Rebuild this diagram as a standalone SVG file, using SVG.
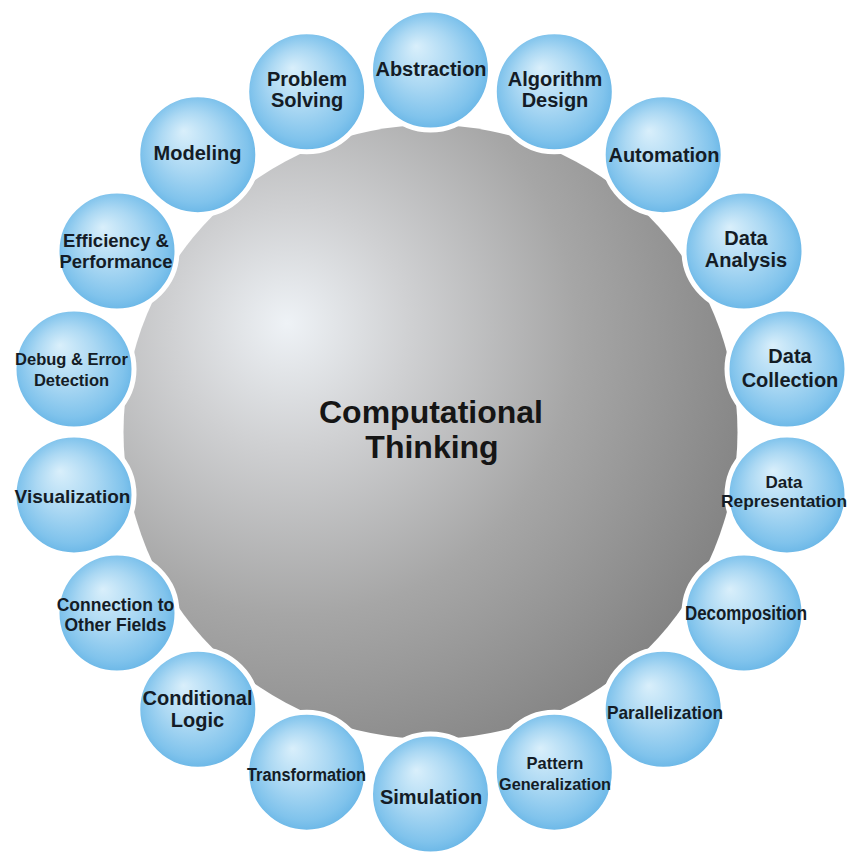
<svg xmlns="http://www.w3.org/2000/svg" width="847" height="852" viewBox="0 0 847 852">
<defs>
<radialGradient id="blue" cx="0.5" cy="0.5" r="0.55" fx="0.38" fy="0.3">
<stop offset="0" stop-color="#d9effb"/>
<stop offset="0.45" stop-color="#abd8f3"/>
<stop offset="0.8" stop-color="#80c3ec"/>
<stop offset="1" stop-color="#5eb0e4"/>
</radialGradient>
<radialGradient id="gray" gradientUnits="userSpaceOnUse" cx="300" cy="340" r="470" fx="287" fy="323">
<stop offset="0" stop-color="#eef2f6"/>
<stop offset="0.25" stop-color="#d0d1d3"/>
<stop offset="0.6" stop-color="#a6a6a6"/>
<stop offset="1" stop-color="#838383"/>
</radialGradient>
<style>
.bub{fill:url(#blue);stroke:#ffffff;stroke-width:5}
.lbl{font-family:"Liberation Sans",Arial,sans-serif;font-weight:bold;fill:#141c26;text-anchor:middle;font-size:20px}
.core{font-family:"Liberation Sans",Arial,sans-serif;font-weight:bold;fill:#151515;text-anchor:middle;font-size:32px}
</style>
</defs>
<rect width="847" height="852" fill="#ffffff"/>
<g id="center">
<circle cx="430.5" cy="432" r="307" fill="url(#gray)"/>
<text class="core" x="431" y="423">Computational</text>
<text class="core" x="432" y="458">Thinking</text>
</g>
<g id="connectors"/>
<g id="abstraction"><circle class="bub" cx="430.5" cy="70" r="60"/><text class="lbl" x="431" y="76">Abstraction</text></g>
<g id="algorithm-design"><circle class="bub" cx="554.3" cy="91.8" r="60"/><text class="lbl" x="555" y="86">Algorithm</text><text class="lbl" x="555" y="107">Design</text></g>
<g id="automation"><circle class="bub" cx="663.2" cy="154.7" r="60"/><text class="lbl" x="664" y="162">Automation</text></g>
<g id="data-analysis"><circle class="bub" cx="744" cy="251" r="60"/><text class="lbl" x="746" y="245">Data</text><text class="lbl" x="746" y="267">Analysis</text></g>
<g id="data-collection"><circle class="bub" cx="787" cy="369.1" r="60"/><text class="lbl" x="790" y="363">Data</text><text class="lbl" x="790" y="387">Collection</text></g>
<g id="data-representation"><circle class="bub" cx="787" cy="494.9" r="60"/><text class="lbl" x="784" y="488" style="font-size:17px">Data</text><text class="lbl" x="784" y="507" style="font-size:17px" textLength="126" lengthAdjust="spacingAndGlyphs">Representation</text></g>
<g id="decomposition"><circle class="bub" cx="744" cy="613" r="60"/><text class="lbl" x="746" y="620" textLength="122" lengthAdjust="spacingAndGlyphs">Decomposition</text></g>
<g id="parallelization"><circle class="bub" cx="663.2" cy="709.3" r="60"/><text class="lbl" x="665" y="719" style="font-size:19px" textLength="116" lengthAdjust="spacingAndGlyphs">Parallelization</text></g>
<g id="pattern-generalization"><circle class="bub" cx="554.3" cy="772.2" r="60"/><text class="lbl" x="555" y="769" style="font-size:16.5px">Pattern</text><text class="lbl" x="555" y="790" style="font-size:16.5px" textLength="112" lengthAdjust="spacingAndGlyphs">Generalization</text></g>
<g id="simulation"><circle class="bub" cx="430.5" cy="794" r="60"/><text class="lbl" x="431" y="804">Simulation</text></g>
<g id="transformation"><circle class="bub" cx="306.7" cy="772.2" r="60"/><text class="lbl" x="306.5" y="781" style="font-size:18px" textLength="119" lengthAdjust="spacingAndGlyphs">Transformation</text></g>
<g id="conditional-logic"><circle class="bub" cx="197.8" cy="709.3" r="60"/><text class="lbl" x="197.5" y="705">Conditional</text><text class="lbl" x="197.5" y="727">Logic</text></g>
<g id="connection-to-other-fields"><circle class="bub" cx="117" cy="613" r="60"/><text class="lbl" x="115.5" y="611" style="font-size:17.5px">Connection to</text><text class="lbl" x="115.5" y="631" style="font-size:17.5px">Other Fields</text></g>
<g id="visualization"><circle class="bub" cx="74" cy="494.9" r="60"/><text class="lbl" x="72.5" y="503" style="font-size:19px">Visualization</text></g>
<g id="debug-error-detection"><circle class="bub" cx="74" cy="369.1" r="60"/><text class="lbl" x="71.5" y="365" style="font-size:16.5px">Debug &amp; Error</text><text class="lbl" x="71.5" y="386" style="font-size:16.5px">Detection</text></g>
<g id="efficiency-performance"><circle class="bub" cx="117" cy="251" r="60"/><text class="lbl" x="116" y="247" style="font-size:18.5px">Efficiency &amp;</text><text class="lbl" x="116" y="268" style="font-size:18.5px">Performance</text></g>
<g id="modeling"><circle class="bub" cx="197.8" cy="154.7" r="60"/><text class="lbl" x="197.5" y="160">Modeling</text></g>
<g id="problem-solving"><circle class="bub" cx="306.7" cy="91.8" r="60"/><text class="lbl" x="307" y="86">Problem</text><text class="lbl" x="307" y="107">Solving</text></g>
</svg>
